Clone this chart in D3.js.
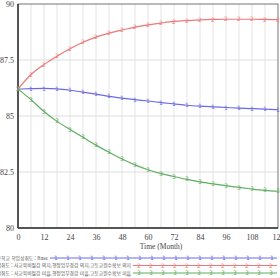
<!DOCTYPE html>
<html lang="ko">
<head>
<meta charset="UTF-8"/>
<title>학업성취도 시뮬레이션</title>
<script src="https://d3js.org/d3.v7.min.js"></script>
<style>
    body { margin: 0; background: white; }
    text { font-family: "Liberation Serif", "Times New Roman", serif; }
    .legend text { font-family: "Noto Sans CJK KR", sans-serif; }
</style>
</head>
<body>
<script>
    // Time points (months) and the three runs
    var months = d3.range(0, 121, 6);
    var base = [86.2, 86.22, 86.23, 86.21, 86.15, 86.07, 85.98, 85.88, 85.8, 85.73, 85.67,
                85.6, 85.54, 85.48, 85.44, 85.41, 85.38, 85.35, 85.33, 85.31, 85.28];
    var runUp = [86.2, 86.85, 87.3, 87.67, 88.0, 88.29, 88.52, 88.7, 88.84, 88.97, 89.07,
                 89.15, 89.22, 89.26, 89.29, 89.31, 89.32, 89.32, 89.32, 89.31, 89.3];
    var runDown = [86.2, 85.73, 85.2, 84.76, 84.4, 84.05, 83.7, 83.38, 83.08, 82.82, 82.6,
                   82.43, 82.3, 82.17, 82.06, 81.97, 81.89, 81.81, 81.74, 81.68, 81.64];
    var xTicks = d3.range(0, 121, 12);
    var yTicks = [80, 82.5, 85, 87.5, 90];
    var seriesNames = [
        "중학교 학업성취도 : Base",
        "중학교 학업성취도 : 사교육비절감 의지,행정업무경감 의지,고등교원수확보 의지",
        "중학교 학업성취도 : 사교육비절감 미흡,행정업무경감 미흡,고등교원수확보 미흡"
    ];

    var series = [
        { name: seriesNames[0], values: base, color: "#6a6ae6", mark: "1", legendX: 50 },
        { name: seriesNames[1], values: runUp, color: "#ee7777", mark: "2", legendX: 133 },
        { name: seriesNames[2], values: runDown, color: "#5fae5f", mark: "3", legendX: 133 }
    ];

    var W = 280, H = 278;
    var margin = { top: 4, right: 2, bottom: 50, left: 18 };
    var w = W - margin.left - margin.right;
    var h = H - margin.top - margin.bottom;

    var svg = d3.select("body").append("svg")
                .attr("width", W)
                .attr("height", H);

    var g = svg.append("g")
               .attr("transform", "translate(" + margin.left + "," + margin.top + ")");

    var xScale = d3.scaleLinear().domain([0, 120]).range([0, w]);
    var yScale = d3.scaleLinear().domain([80, 90]).range([h, 0]);

    // grid
    g.selectAll(".vgrid")
     .data(d3.range(6, 120, 6))
     .enter().append("line")
     .attr("x1", function(d) { return xScale(d); })
     .attr("x2", function(d) { return xScale(d); })
     .attr("y1", 0).attr("y2", h)
     .attr("stroke", "#e4e4e4").attr("stroke-width", 1);

    g.selectAll(".hgrid")
     .data([82.5, 85, 87.5])
     .enter().append("line")
     .attr("x1", 0).attr("x2", w)
     .attr("y1", function(d) { return yScale(d); })
     .attr("y2", function(d) { return yScale(d); })
     .attr("stroke", "#dddddd").attr("stroke-width", 1);

    // frame
    g.append("rect")
     .attr("x", 0).attr("y", 0)
     .attr("width", w).attr("height", h)
     .attr("fill", "none")
     .attr("stroke", "#777").attr("stroke-width", 1);
    g.append("line")
     .attr("x1", 0).attr("x2", 0).attr("y1", 0).attr("y2", h)
     .attr("stroke", "#333").attr("stroke-width", 1.5);
    g.append("line")
     .attr("x1", 0).attr("x2", w).attr("y1", h).attr("y2", h)
     .attr("stroke", "#333").attr("stroke-width", 1.5);

    // axes (labels only)
    var xAxis = d3.axisBottom(xScale).tickValues(xTicks).tickSize(0).tickPadding(6);
    var yAxis = d3.axisLeft(yScale).tickValues(yTicks).tickSize(0).tickPadding(4)
                  .tickFormat(function(d) { return d; });

    var xg = g.append("g").attr("transform", "translate(0," + h + ")").call(xAxis);
    var yg = g.append("g").call(yAxis);
    [xg, yg].forEach(function(a) {
        a.select(".domain").remove();
        a.selectAll("text")
         .attr("fill", "#444")
         .style("font-size", "8px")
         .style("font-family", "'Liberation Serif', serif");
    });
    yg.selectAll("text").attr("dy", "0.35em");

    g.append("text")
     .attr("x", xScale(66)).attr("y", h + 21)
     .attr("text-anchor", "middle")
     .attr("fill", "#444")
     .style("font-size", "7.5px")
     .text("Time (Month)");

    // lines with numbered markers
    var line = d3.line()
                 .x(function(d, i) { return xScale(months[i]); })
                 .y(function(d) { return yScale(d); })
                 .curve(d3.curveMonotoneX);

    series.forEach(function(s) {
        g.append("path")
         .datum(s.values)
         .attr("d", line)
         .attr("fill", "none")
         .attr("stroke", s.color)
         .attr("stroke-width", 1.2);

        g.selectAll(null)
         .data(s.values)
         .enter().append("text")
         .attr("x", function(d, i) { return xScale(months[i]); })
         .attr("y", function(d) { return yScale(d); })
         .attr("dy", "0.35em")
         .attr("text-anchor", "middle")
         .attr("fill", s.color)
         .style("font-size", "6px")
         .style("font-family", "'DejaVu Sans', sans-serif")
         .text(s.mark);
    });

    // legend
    var legend = svg.append("g").attr("class", "legend");
    series.forEach(function(s, i) {
        var y = 258 + i * 7.5;
        legend.append("text")
              .attr("x", s.legendX - 2).attr("y", y)
              .attr("dy", "0.35em")
              .attr("text-anchor", "end")
              .attr("fill", "#555")
              .style("font-size", "4.8px")
              .text(s.name);
        legend.append("line")
              .attr("x1", s.legendX).attr("x2", 277)
              .attr("y1", y).attr("y2", y)
              .attr("stroke", s.color).attr("stroke-width", 1);
        legend.selectAll(null)
              .data(d3.range(s.legendX + 6, 276, 12))
              .enter().append("text")
              .attr("x", function(d) { return d; })
              .attr("y", y)
              .attr("dy", "0.35em")
              .attr("text-anchor", "middle")
              .attr("fill", s.color)
              .style("font-size", "6px")
              .style("font-family", "'DejaVu Sans', sans-serif")
              .text(s.mark);
    });
</script>
</body>
</html>
